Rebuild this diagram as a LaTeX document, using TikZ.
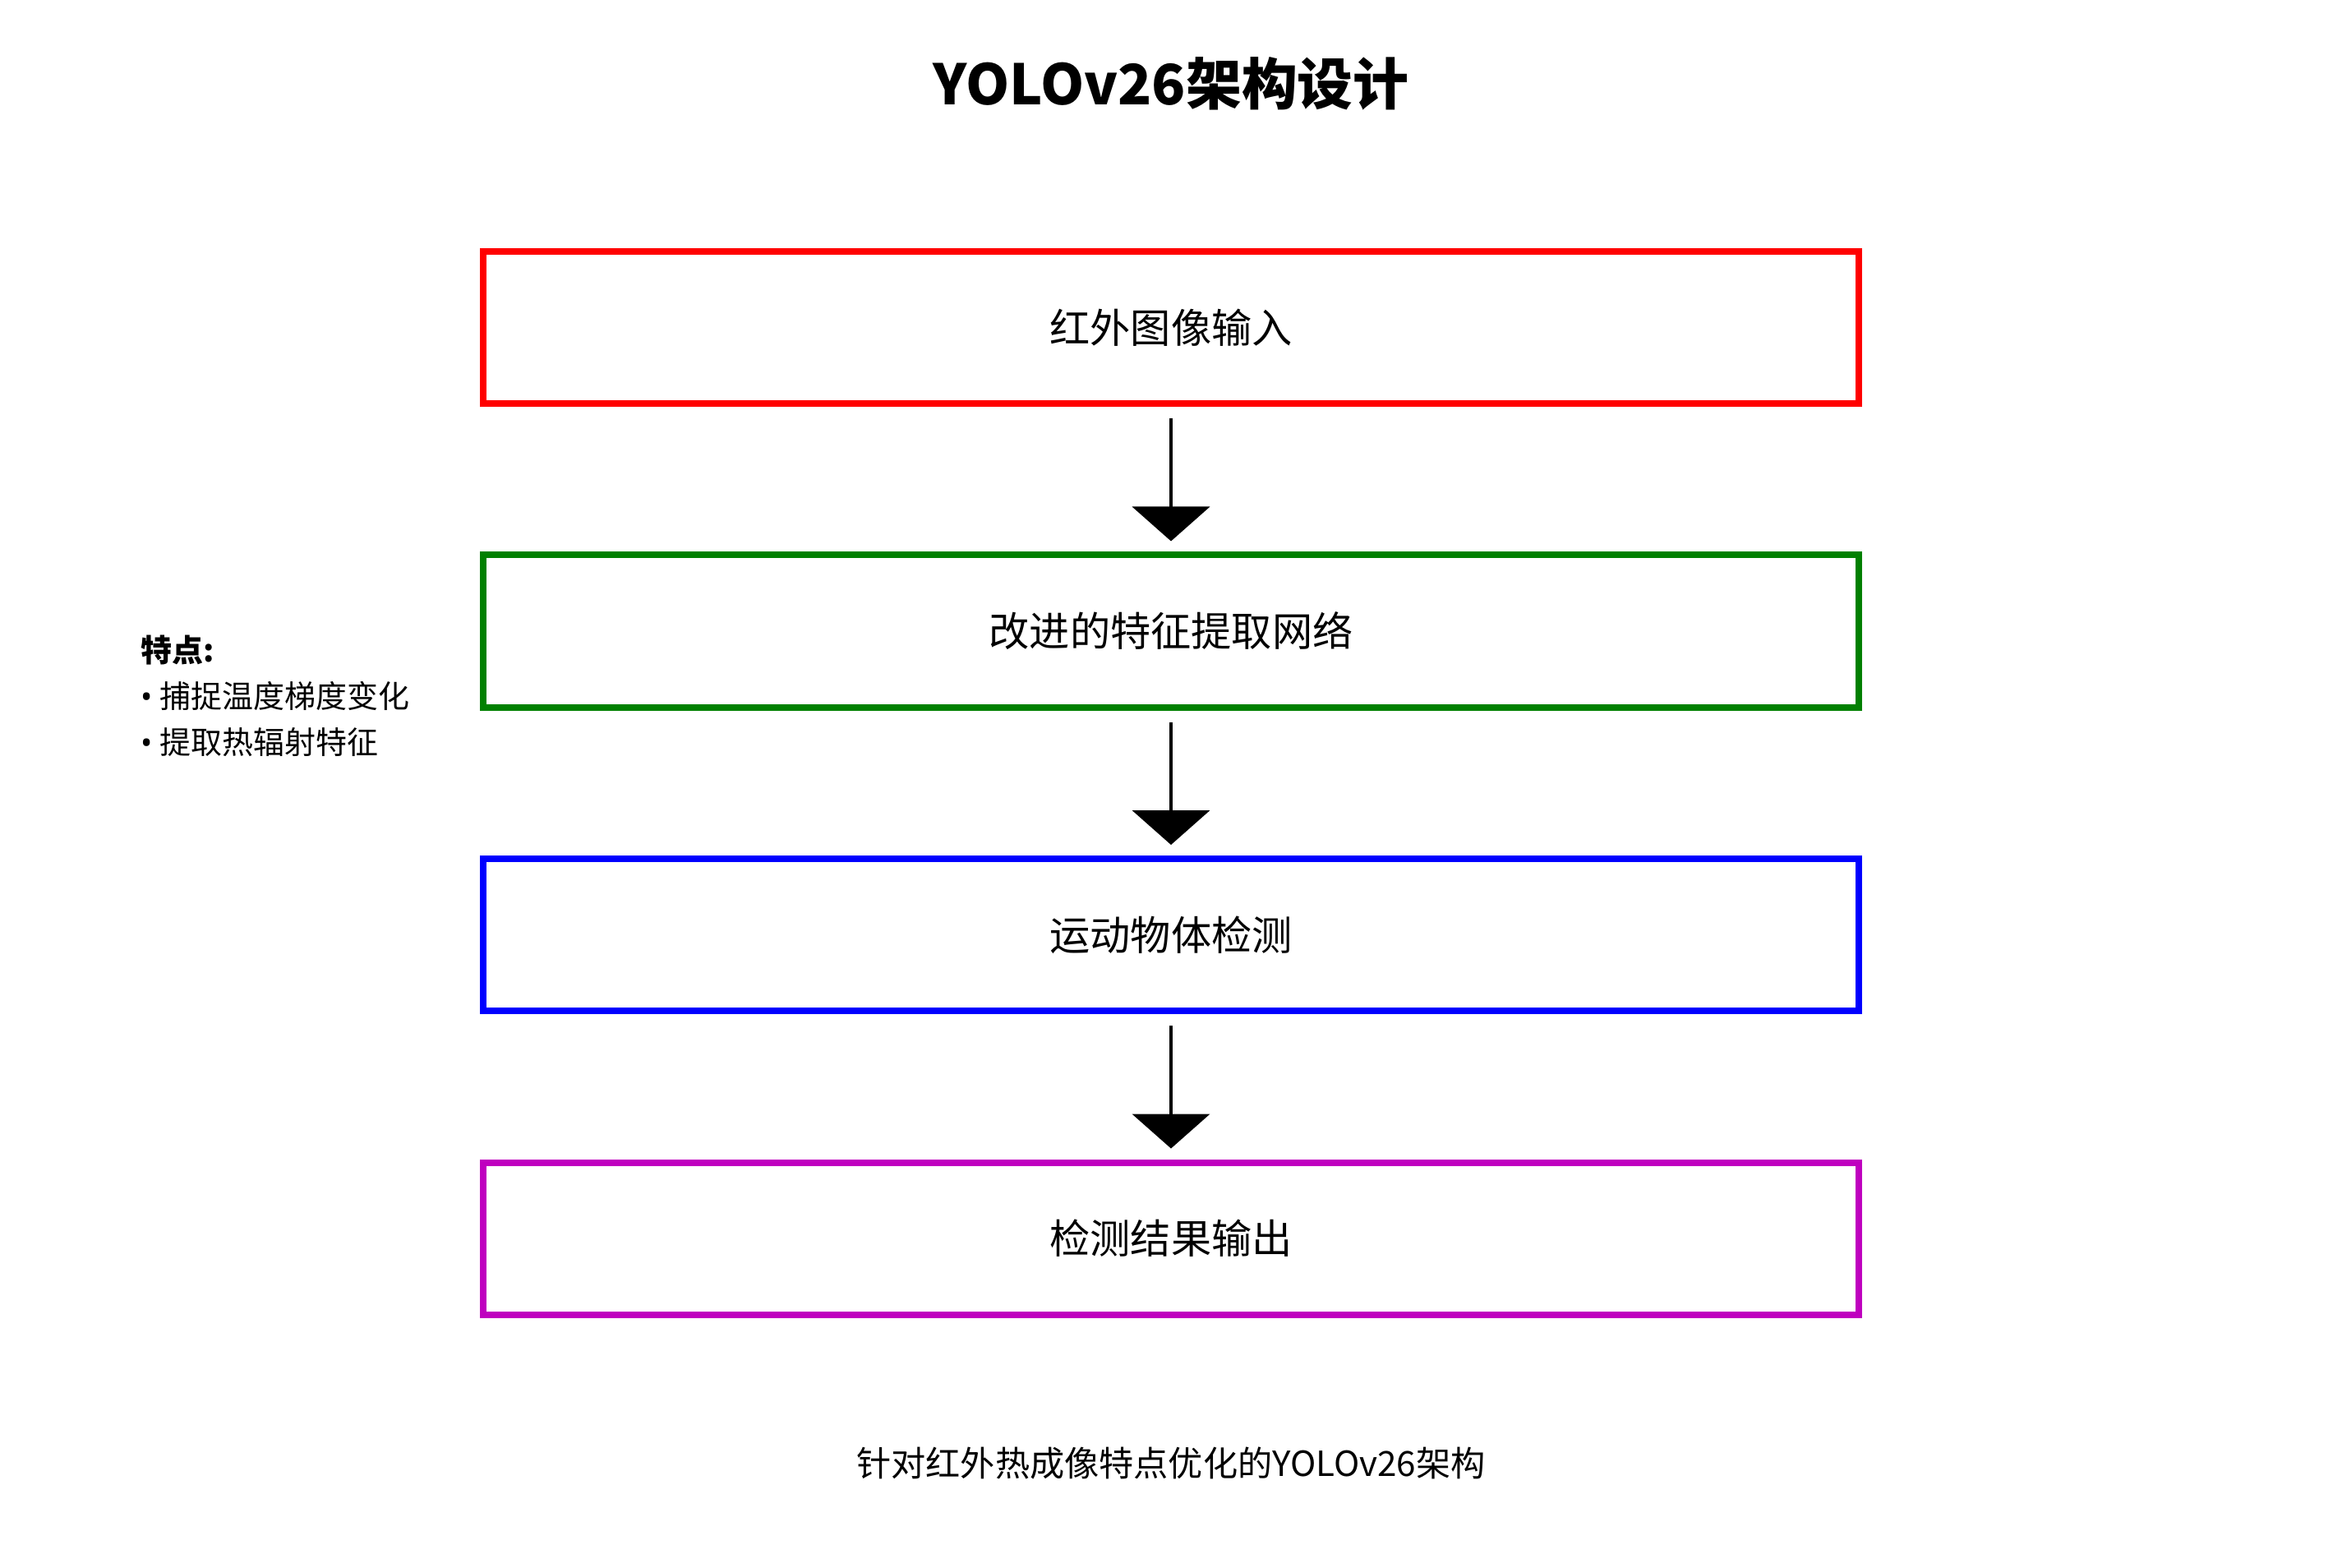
\documentclass[tikz,border=0pt]{standalone}
\usepackage{fontspec}
\setmainfont{Noto Sans CJK SC}
\newfontfamily\bulletfont{Noto Sans}
\usepackage{tikz}
\usetikzlibrary{arrows.meta}
\definecolor{archred}{RGB}{255,0,0}
\definecolor{archgreen}{RGB}{0,128,0}
\definecolor{archblue}{RGB}{0,0,255}
\definecolor{archmagenta}{RGB}{191,0,191}
\newcommand{\pt}{{\bulletfont •}\ }

\begin{document}
\begin{tikzpicture}[
        stage/.style={draw, line width=0.08cm, minimum width=16.74cm, minimum height=1.85cm, inner sep=0pt, align=center, font=\fontsize{14}{17}\selectfont},
        flow/.style={-{Triangle[length=0.42cm, width=0.94cm]}, line width=1.4pt, shorten <=0.14cm, shorten >=0.13cm},
        note/.style={align=left, anchor=west, inner sep=0pt, font=\fontsize{10.8}{16}\selectfont}
      ]
      \useasboundingbox (0,0) rectangle (28.5,19.07);

      \node[font=\fontsize{19.3}{23}\selectfont\bfseries] (title) at (14.25,18.05) {YOLOv26架构设计};

      \node[stage, draw=archred] (input) at (14.25,15.085) {红外图像输入};
      \node[stage, draw=archgreen] (backbone) at (14.25,11.39) {改进的特征提取网络};
      \node[stage, draw=archblue] (detect) at (14.25,7.695) {运动物体检测};
      \node[stage, draw=archmagenta] (output) at (14.25,4.0) {检测结果输出};

      \draw[flow] (input) -- (backbone);
      \draw[flow] (backbone) -- (detect);
      \draw[flow] (detect) -- (output);

      \node[note] (traits) at (1.71,10.60)
        {{\bfseries 特点:}\\\pt 捕捉温度梯度变化\\\pt 提取热辐射特征};

      \node[font=\fontsize{12}{14}\selectfont] (caption) at (14.25,1.26) {针对红外热成像特点优化的YOLOv26架构};
    \end{tikzpicture}
\end{document}
